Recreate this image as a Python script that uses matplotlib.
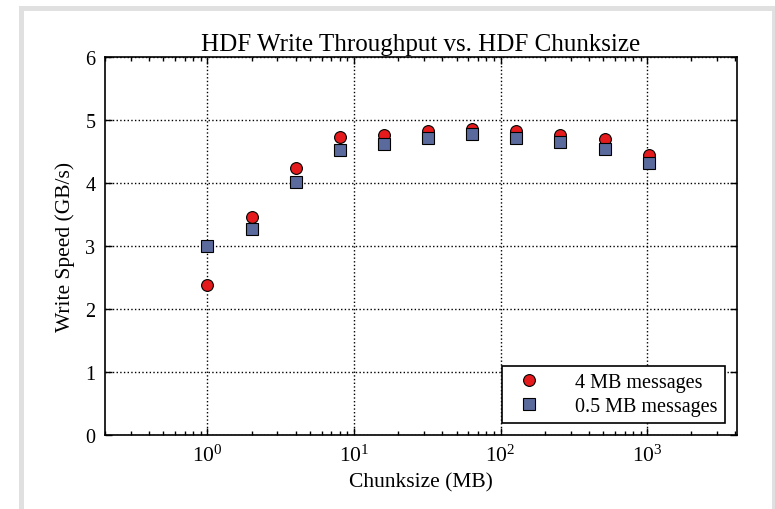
import matplotlib
matplotlib.use("Agg")
import matplotlib.pyplot as plt
from matplotlib.patches import Rectangle

chunksize_mb = [1, 2, 4, 8, 16, 32, 64, 128, 256, 512, 1024]
speed_4mb = [2.38, 3.46, 4.23, 4.73, 4.76, 4.82, 4.86, 4.82, 4.76, 4.69, 4.45]
speed_05mb = [3.00, 3.26, 4.01, 4.52, 4.62, 4.72, 4.78, 4.71, 4.65, 4.54, 4.31]
labels = ["4 MB messages", "0.5 MB messages"]
yticks = [0, 1, 2, 3, 4, 5, 6]

plt.rcParams['font.family'] = ['Liberation Serif', 'DejaVu Serif']
plt.rcParams['mathtext.default'] = 'regular'

W, H = 775, 510
fig = plt.figure(figsize=(W / 100, H / 100), dpi=100)
fig.patch.set_facecolor('white')

# gray page frame
gray = '#e0e0e0'
def px_rect(x0, y0, x1, y1):
    fig.patches.append(Rectangle((x0 / W, 1 - y1 / H), (x1 - x0) / W, (y1 - y0) / H,
                                 transform=fig.transFigure, facecolor=gray,
                                 edgecolor='none', zorder=-10))
px_rect(19, 7, 775, 12)
px_rect(19, 7, 24, 510)
px_rect(772, 7, 775, 510)

ax = fig.add_axes([105 / W, 1 - 435.7 / H, (737 - 105) / W, (435.7 - 58) / H])
ax.set_xscale('log')
ax.plot(chunksize_mb, speed_4mb, 'o', color='#e41a1c', markeredgecolor='black',
        markeredgewidth=0.8, markersize=8.5, label=labels[0], zorder=3)
ax.plot(chunksize_mb, speed_05mb, 's', color='#5a6a9c', markeredgecolor='black',
        markeredgewidth=0.8, markersize=8.5, label=labels[1], zorder=4)

ax.set_xlim(0.2, 4096)
ax.set_ylim(0, 6)
ax.set_yticks(yticks)
ax.grid(True, which='major', linestyle=':', color='black', linewidth=1)
ax.tick_params(which='both', direction='in', top=True, right=True, pad=7)
ax.tick_params(axis='y', labelsize=14.5)
ax.tick_params(axis='x', labelsize=15.5)
ax.tick_params(which='major', length=5, width=1)
ax.tick_params(which='minor', length=3, width=1)
for s in ax.spines.values():
    s.set_linewidth(1.2)

ax.set_title('HDF Write Throughput vs. HDF Chunksize', fontsize=18, pad=5)
ax.set_xlabel('Chunksize (MB)', fontsize=15.5, labelpad=5)
ax.set_ylabel('Write Speed (GB/s)', fontsize=15.5, labelpad=7)

leg = ax.legend(loc='lower right', numpoints=1, fontsize=14.5, fancybox=False,
                framealpha=1, edgecolor='black', handletextpad=1.3,
                borderaxespad=0.6, labelspacing=0.2, borderpad=0.35)
leg.get_frame().set_linewidth(1.2)

fig.savefig('out.png', dpi=100)
